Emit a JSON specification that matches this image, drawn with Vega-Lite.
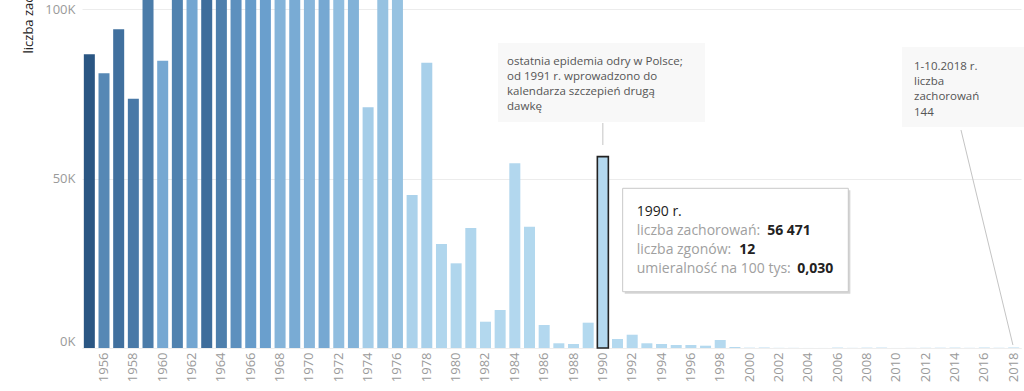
{
  "$schema": "https://vega.github.io/schema/vega-lite/v6.json",
  "width": 939,
  "height": 348,
  "autosize": "none",
  "padding": {"left": 82, "top": 0, "right": 3, "bottom": 43},
  "background": "white",
  "config": {"view": {"stroke": null}, "font": "Open Sans"},
  "data": {"values": [
    {"rok": 1955, "zachorowania": 86700, "umieralnosc": 5.0},
    {"rok": 1956, "zachorowania": 81060, "umieralnosc": 3.3},
    {"rok": 1957, "zachorowania": 94050, "umieralnosc": 4.1},
    {"rok": 1958, "zachorowania": 73570, "umieralnosc": 3.8},
    {"rok": 1959, "zachorowania": 115000, "umieralnosc": 3.7},
    {"rok": 1960, "zachorowania": 84780, "umieralnosc": 2.1},
    {"rok": 1961, "zachorowania": 130000, "umieralnosc": 3.5},
    {"rok": 1962, "zachorowania": 125000, "umieralnosc": 2.2},
    {"rok": 1963, "zachorowania": 140000, "umieralnosc": 4.2},
    {"rok": 1964, "zachorowania": 120000, "umieralnosc": 3.6},
    {"rok": 1965, "zachorowania": 135000, "umieralnosc": 3.0},
    {"rok": 1966, "zachorowania": 110000, "umieralnosc": 2.6},
    {"rok": 1967, "zachorowania": 128000, "umieralnosc": 2.5},
    {"rok": 1968, "zachorowania": 118000, "umieralnosc": 1.6},
    {"rok": 1969, "zachorowania": 125000, "umieralnosc": 2.0},
    {"rok": 1970, "zachorowania": 132000, "umieralnosc": 1.5},
    {"rok": 1971, "zachorowania": 112000, "umieralnosc": 2.1},
    {"rok": 1972, "zachorowania": 121000, "umieralnosc": 1.2},
    {"rok": 1973, "zachorowania": 108000, "umieralnosc": 1.7},
    {"rok": 1974, "zachorowania": 71030, "umieralnosc": 0.5},
    {"rok": 1975, "zachorowania": 116000, "umieralnosc": 1.0},
    {"rok": 1976, "zachorowania": 127000, "umieralnosc": 1.0},
    {"rok": 1977, "zachorowania": 45150, "umieralnosc": 0.3},
    {"rok": 1978, "zachorowania": 84190, "umieralnosc": 0.4},
    {"rok": 1979, "zachorowania": 30690, "umieralnosc": 0.15},
    {"rok": 1980, "zachorowania": 24990, "umieralnosc": 0.12},
    {"rok": 1981, "zachorowania": 35410, "umieralnosc": 0.12},
    {"rok": 1982, "zachorowania": 7760, "umieralnosc": 0.05},
    {"rok": 1983, "zachorowania": 11210, "umieralnosc": 0.05},
    {"rok": 1984, "zachorowania": 54500, "umieralnosc": 0.08},
    {"rok": 1985, "zachorowania": 35800, "umieralnosc": 0.06},
    {"rok": 1986, "zachorowania": 6790, "umieralnosc": 0.03},
    {"rok": 1987, "zachorowania": 1390, "umieralnosc": 0.01},
    {"rok": 1988, "zachorowania": 1180, "umieralnosc": 0.01},
    {"rok": 1989, "zachorowania": 7470, "umieralnosc": 0.02},
    {"rok": 1990, "zachorowania": 56471, "umieralnosc": 0.03},
    {"rok": 1991, "zachorowania": 2660, "umieralnosc": 0.01},
    {"rok": 1992, "zachorowania": 3920, "umieralnosc": 0.01},
    {"rok": 1993, "zachorowania": 1390, "umieralnosc": 0.0},
    {"rok": 1994, "zachorowania": 1180, "umieralnosc": 0.0},
    {"rok": 1995, "zachorowania": 890, "umieralnosc": 0.0},
    {"rok": 1996, "zachorowania": 890, "umieralnosc": 0.0},
    {"rok": 1997, "zachorowania": 680, "umieralnosc": 0.0},
    {"rok": 1998, "zachorowania": 2360, "umieralnosc": 0.0},
    {"rok": 1999, "zachorowania": 300, "umieralnosc": 0.0},
    {"rok": 2000, "zachorowania": 96, "umieralnosc": 0.0},
    {"rok": 2001, "zachorowania": 137, "umieralnosc": 0.0},
    {"rok": 2002, "zachorowania": 45, "umieralnosc": 0.0},
    {"rok": 2003, "zachorowania": 41, "umieralnosc": 0.0},
    {"rok": 2004, "zachorowania": 14, "umieralnosc": 0.0},
    {"rok": 2005, "zachorowania": 13, "umieralnosc": 0.0},
    {"rok": 2006, "zachorowania": 120, "umieralnosc": 0.0},
    {"rok": 2007, "zachorowania": 40, "umieralnosc": 0.0},
    {"rok": 2008, "zachorowania": 100, "umieralnosc": 0.0},
    {"rok": 2009, "zachorowania": 115, "umieralnosc": 0.0},
    {"rok": 2010, "zachorowania": 13, "umieralnosc": 0.0},
    {"rok": 2011, "zachorowania": 38, "umieralnosc": 0.0},
    {"rok": 2012, "zachorowania": 70, "umieralnosc": 0.0},
    {"rok": 2013, "zachorowania": 84, "umieralnosc": 0.0},
    {"rok": 2014, "zachorowania": 110, "umieralnosc": 0.0},
    {"rok": 2015, "zachorowania": 48, "umieralnosc": 0.0},
    {"rok": 2016, "zachorowania": 133, "umieralnosc": 0.0},
    {"rok": 2017, "zachorowania": 63, "umieralnosc": 0.0},
    {"rok": 2018, "zachorowania": 144, "umieralnosc": 0.0}
  ]},
  "resolve": {"scale": {"x": "independent"}, "axis": {"x": "independent", "y": "independent"}},
  "layer": [
    {
      "mark": {"type": "bar", "strokeWidth": 1.6},
      "encoding": {
        "x": {"field": "rok", "type": "ordinal",
          "scale": {"paddingInner": 0.25, "paddingOuter": 0.125},
          "axis": {"title": null, "values": [1956,1958,1960,1962,1964,1966,1968,1970,1972,1974,1976,1978,1980,1982,1984,1986,1988,1990,1992,1994,1996,1998,2000,2002,2004,2006,2008,2010,2012,2014,2016,2018],
            "labelAngle": -90, "labelAlign": "right", "labelBaseline": "middle", "labelPadding": 4,
            "labelFontSize": 13, "labelColor": "#9a9a9a", "ticks": false, "domain": true, "domainColor": "#eeeeee"}},
        "y": {"field": "zachorowania", "type": "quantitative",
          "scale": {"domain": [0, 102700], "clamp": true, "nice": false},
          "axis": {"title": "liczba zachorowań", "values": [0, 50000, 100000],
            "labelExpr": "(datum.value/1000) + 'K'", "labelFlush": true, "labelFontSize": 13, "labelColor": "#9a9a9a",
            "labelPadding": 7, "ticks": false, "domain": false, "grid": true, "gridColor": "#ececec",
            "titleAngle": -90, "titleAlign": "left", "titleBaseline": "middle", "titleX": -54, "titleY": 53,
            "titleFontSize": 13, "titleFontWeight": "normal", "titleColor": "#222222"}},
        "color": {"field": "umieralnosc", "type": "quantitative",
          "scale": {"domain": [0, 2.5, 5], "range": ["#b4d9ef", "#6a9fcd", "#2a5683"], "interpolate": "rgb"}, "legend": null},
        "stroke": {"condition": {"test": "datum.rok === 1990", "value": "#222222"}, "value": null}
      }
    },
    {
      "data": {"values": [
        {"x1": 1982.85, "x2": 1996.96, "y1": 90006, "y2": 66693},
        {"x1": 2010.39, "x2": 2018.7, "y1": 88825, "y2": 65217}
      ]},
      "mark": {"type": "rect", "fill": "#f8f8f8"},
      "encoding": {
        "x": {"field": "x1", "type": "quantitative", "scale": {"domain": [1954.5, 2018.5], "nice": false, "zero": false}, "axis": null},
        "x2": {"field": "x2"},
        "y": {"field": "y1", "type": "quantitative", "scale": {"domain": [0, 102700], "clamp": true, "nice": false}, "axis": null},
        "y2": {"field": "y2"}
      }
    },
    {
      "data": {"values": [
        {"x": 1983.47, "y": 84487, "tekst": "ostatnia epidemia odry w Polsce;"},
        {"x": 1983.47, "y": 80061, "tekst": "od 1991 r. wprowadzono do"},
        {"x": 1983.47, "y": 75457, "tekst": "kalendarza szczepień drugą"},
        {"x": 1983.47, "y": 71208, "tekst": "dawkę"},
        {"x": 2011.21, "y": 83012, "tekst": "1-10.2018 r."},
        {"x": 2011.21, "y": 78585, "tekst": "liczba"},
        {"x": 2011.21, "y": 74159, "tekst": "zachorowań"},
        {"x": 2011.21, "y": 69260, "tekst": "144"}
      ]},
      "mark": {"type": "text", "align": "left", "baseline": "middle", "fontSize": 11.5, "color": "#555555"},
      "encoding": {
        "x": {"field": "x", "type": "quantitative", "scale": {"domain": [1954.5, 2018.5], "nice": false, "zero": false}, "axis": null},
        "y": {"field": "y", "type": "quantitative", "scale": {"domain": [0, 102700], "clamp": true, "nice": false}, "axis": null},
        "text": {"field": "tekst"}
      }
    },
    {
      "data": {"values": [
        {"x1": 1990, "x2": 1990, "y1": 66398, "y2": 59905},
        {"x1": 2014.41, "x2": 2017.95, "y1": 64332, "y2": 885}
      ]},
      "mark": {"type": "rule", "color": "#c4c4c4", "strokeWidth": 1},
      "encoding": {
        "x": {"field": "x1", "type": "quantitative", "scale": {"domain": [1954.5, 2018.5], "nice": false, "zero": false}, "axis": null},
        "x2": {"field": "x2"},
        "y": {"field": "y1", "type": "quantitative", "scale": {"domain": [0, 102700], "clamp": true, "nice": false}, "axis": null},
        "y2": {"field": "y2"}
      }
    },
    {
      "data": {"values": [
        {"x1": 1991.49, "x2": 2006.87, "y1": 46538, "y2": 16024}
      ]},
      "mark": {"type": "rect", "fill": "#d6d6d6"},
      "encoding": {
        "x": {"field": "x1", "type": "quantitative", "scale": {"domain": [1954.5, 2018.5], "nice": false, "zero": false}, "axis": null},
        "x2": {"field": "x2"},
        "y": {"field": "y1", "type": "quantitative", "scale": {"domain": [0, 102700], "clamp": true, "nice": false}, "axis": null},
        "y2": {"field": "y2"}
      }
    },
    {
      "data": {"values": [
        {"x1": 1991.35, "x2": 2006.73, "y1": 47128, "y2": 16614}
      ]},
      "mark": {"type": "rect", "fill": "white", "stroke": "#c9c9c9", "strokeWidth": 1},
      "encoding": {
        "x": {"field": "x1", "type": "quantitative", "scale": {"domain": [1954.5, 2018.5], "nice": false, "zero": false}, "axis": null},
        "x2": {"field": "x2"},
        "y": {"field": "y1", "type": "quantitative", "scale": {"domain": [0, 102700], "clamp": true, "nice": false}, "axis": null},
        "y2": {"field": "y2"}
      }
    },
    {
      "data": {"values": [
        {"x": 1992.31, "y": 40045, "tekst": "1990 r."}
      ]},
      "mark": {"type": "text", "align": "left", "baseline": "middle", "fontSize": 14, "color": "#222222"},
      "encoding": {
        "x": {"field": "x", "type": "quantitative", "scale": {"domain": [1954.5, 2018.5], "nice": false, "zero": false}, "axis": null},
        "y": {"field": "y", "type": "quantitative", "scale": {"domain": [0, 102700], "clamp": true, "nice": false}, "axis": null},
        "text": {"field": "tekst"}
      }
    },
    {
      "data": {"values": [
        {"x": 1992.31, "y": 34527, "tekst": "liczba zachorowań:"},
        {"x": 1992.31, "y": 28920, "tekst": "liczba zgonów:"},
        {"x": 1992.31, "y": 23224, "tekst": "umieralność na 100 tys:"}
      ]},
      "mark": {"type": "text", "align": "left", "baseline": "middle", "fontSize": 14, "color": "#a0a0a0"},
      "encoding": {
        "x": {"field": "x", "type": "quantitative", "scale": {"domain": [1954.5, 2018.5], "nice": false, "zero": false}, "axis": null},
        "y": {"field": "y", "type": "quantitative", "scale": {"domain": [0, 102700], "clamp": true, "nice": false}, "axis": null},
        "text": {"field": "tekst"}
      }
    },
    {
      "data": {"values": [
        {"x": 2001.2, "y": 34527, "tekst": "56 471"},
        {"x": 1999.29, "y": 28920, "tekst": "12"},
        {"x": 2003.25, "y": 23224, "tekst": "0,030"}
      ]},
      "mark": {"type": "text", "align": "left", "baseline": "middle", "fontSize": 14, "fontWeight": "bold", "color": "#222222"},
      "encoding": {
        "x": {"field": "x", "type": "quantitative", "scale": {"domain": [1954.5, 2018.5], "nice": false, "zero": false}, "axis": null},
        "y": {"field": "y", "type": "quantitative", "scale": {"domain": [0, 102700], "clamp": true, "nice": false}, "axis": null},
        "text": {"field": "tekst"}
      }
    }
  ]
}
